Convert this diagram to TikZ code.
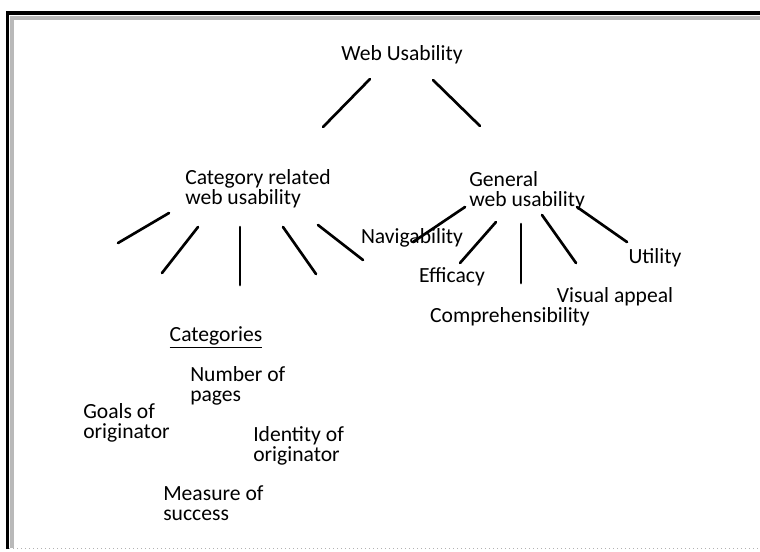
\documentclass[tikz,border=0pt]{standalone}
\usepackage{fontspec}
\setmainfont{Carlito}
\usepackage{tikz}
\usetikzlibrary{calc}

\tikzset{
    lbl/.style={inner sep=0pt, font=\fontsize{16.2}{15}\selectfont},
    blk/.style={lbl, align=left, anchor=west},
    stroke/.style={line width=2pt, line cap=round}
}

\begin{document}
\begin{tikzpicture}[x=0.75pt, y=-0.75pt]

% Page
\useasboundingbox (0,0) rectangle (760,551);
\fill[white] (0,0) rectangle (760,551);

% Frame
\draw[gray!55, line width=3pt] (11.5,548) -- (11.5,17.5) -- (760,17.5);
\draw[black, line width=2.6pt] (7.5,549) -- (7.5,13) -- (760,13);
\draw[gray!60, line width=1pt, dotted] (9,548.5) -- (760,548.5);

% Top
\node[lbl] (usab) at (402,55) {Web Usability};
\node[blk] (catrel) at (185,189) {Category related\\web usability};
\node[blk] (genus) at (469,191) {General\\web usability};

\coordinate (ul) at (370,79);  \coordinate (ul') at (323,127);
\coordinate (ur) at (433,80);  \coordinate (ur') at (480,126);
\draw[stroke] (ul) -- (ul');
\draw[stroke] (ur) -- (ur');

% Category related branches
\coordinate (c1) at (169,213); \coordinate (c1') at (118,243);
\coordinate (c2) at (198,227); \coordinate (c2') at (162,273);
\coordinate (c3) at (240,227); \coordinate (c3') at (240,285);
\coordinate (c4) at (283,227); \coordinate (c4') at (316,274);
\coordinate (c5) at (318,225); \coordinate (c5') at (363,260);
\foreach \i in {1,...,5}
    \draw[stroke] (c\i) -- (c\i');

% General branches
\node[lbl] (navig) at (412,238) {Navigability};
\node[lbl] (effic) at (452,277) {Efficacy};
\node[lbl] (compr) at (510,317) {Comprehensibility};
\node[lbl] (visap) at (615,297) {Visual appeal};
\node[lbl] (util) at (655,258) {Utility};

\coordinate (g1) at (465,207); \coordinate (g1') at (413,242);
\coordinate (g2) at (496,222); \coordinate (g2') at (460,263);
\coordinate (g3) at (521,224); \coordinate (g3') at (521,283);
\coordinate (g4) at (542,215); \coordinate (g4') at (576,263);
\coordinate (g5) at (577,207); \coordinate (g5') at (627,242);
\foreach \i in {1,...,5}
    \draw[stroke] (g\i) -- (g\i');

% Categories
\node[lbl] (cats) at (216,337) {\underline{Categories}};
\node[blk] (npages) at (190,386) {Number of\\pages};
\node[blk] (goals) at (83,423) {Goals of\\originator};
\node[blk] (ident) at (253,446) {Identity of\\originator};
\node[blk] (succ) at (163,503) {Measure of\\success};

\end{tikzpicture}
\end{document}
